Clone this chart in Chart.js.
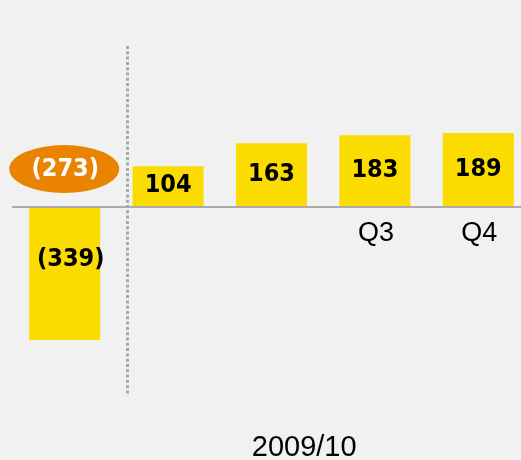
<!DOCTYPE html>
<html>
<head>
<meta charset="utf-8">
<script src="https://cdn.jsdelivr.net/npm/chart.js@4.4.1/dist/chart.umd.min.js"></script>
<style>
  html, body { margin: 0; padding: 0; background: #f1f1f1; overflow: hidden; }
  #wrap { width: 530px; height: 460px; position: relative; }
</style>
</head>
<body>
<div id="wrap"><canvas id="c"></canvas></div>
<script>
// ---- data ----
const categories = ['', '', '', 'Q3', 'Q4'];
const values = [-339, 104, 163, 183, 189];
const highlightValue = -273;      // value in the orange bubble above first bar
const periodTitle = '2009/10';

function fmt(v) { return v < 0 ? '(' + Math.abs(v) + ')' : String(v); }

const VALUE_FONT = 'bold 25px "DejaVu Sans Condensed", "DejaVu Sans", "Liberation Sans", sans-serif';
const TICK_FONT = '27px "Liberation Sans", Arial, sans-serif';
const TITLE_FONT = '29px "Liberation Sans", Arial, sans-serif';

const overlay = {
  id: 'overlay',
  afterDatasetsDraw(chart) {
    const ctx = chart.ctx;
    const xs = chart.scales.x, ys = chart.scales.y;
    const area = chart.chartArea;
    const zero = ys.getPixelForValue(0);
    const meta = chart.getDatasetMeta(0);

    ctx.save();
    // zero axis line
    ctx.strokeStyle = '#ababab';
    ctx.lineWidth = 2;
    ctx.beginPath();
    ctx.moveTo(area.left - 1, zero);
    ctx.lineTo(area.right, zero);
    ctx.stroke();

    // dotted separator between first and second category
    const p0 = xs.getPixelForValue(0), p1 = xs.getPixelForValue(1);
    const sepX = Math.round(p0 + 0.6 * (p1 - p0)) + 0.5;
    ctx.strokeStyle = '#a8a8a8';
    ctx.lineWidth = 3;
    ctx.setLineDash([3, 2.3]);
    ctx.beginPath();
    ctx.moveTo(sepX, 46);
    ctx.lineTo(sepX, 396);
    ctx.stroke();
    ctx.setLineDash([]);

    // value labels
    ctx.font = VALUE_FONT;
    ctx.fillStyle = '#000';
    ctx.textAlign = 'center';
    ctx.textBaseline = 'middle';
    meta.data.forEach((bar, i) => {
      const v = values[i];
      if (v >= 0) {
        ctx.fillText(fmt(v), bar.x, (bar.y + bar.base) / 2 - 1);
      } else {
        ctx.fillText(fmt(v), bar.x + 6, bar.base + 52);
      }
    });

    // highlight bubble
    const bx = meta.data[0].x - 0.5, by = zero - 38;
    ctx.fillStyle = '#ea8300';
    ctx.beginPath();
    ctx.ellipse(bx, by, 55, 24, 0, 0, Math.PI * 2);
    ctx.fill();
    ctx.fillStyle = '#ffffff';
    ctx.font = VALUE_FONT;
    ctx.fillText(fmt(highlightValue), bx + 1, by);

    // category labels below the axis
    ctx.fillStyle = '#000';
    ctx.font = TICK_FONT;
    ctx.textBaseline = 'alphabetic';
    categories.forEach((c, i) => {
      if (c) ctx.fillText(c, xs.getPixelForValue(i) + 1, zero + 34);
    });

    // period title
    ctx.font = TITLE_FONT;
    ctx.fillText(periodTitle, (xs.getPixelForValue(2) + xs.getPixelForValue(3)) / 2 - 19, 456);
    ctx.restore();
  }
};

new Chart(document.getElementById('c'), {
  type: 'bar',
  data: {
    labels: categories,
    datasets: [{
      data: values,
      backgroundColor: '#fbdc00',
      borderWidth: 0,
      barPercentage: 0.687,
      categoryPercentage: 1.0
    }]
  },
  options: {
    responsive: true,
    maintainAspectRatio: false,
    animation: false,
    layout: { padding: { left: 13, right: 0, top: 0, bottom: 0 } },
    plugins: { legend: { display: false }, tooltip: { enabled: false } },
    scales: {
      x: { display: false },
      y: { display: false, min: -645, max: 528 }
    }
  },
  plugins: [overlay]
});
</script>
</body>
</html>
